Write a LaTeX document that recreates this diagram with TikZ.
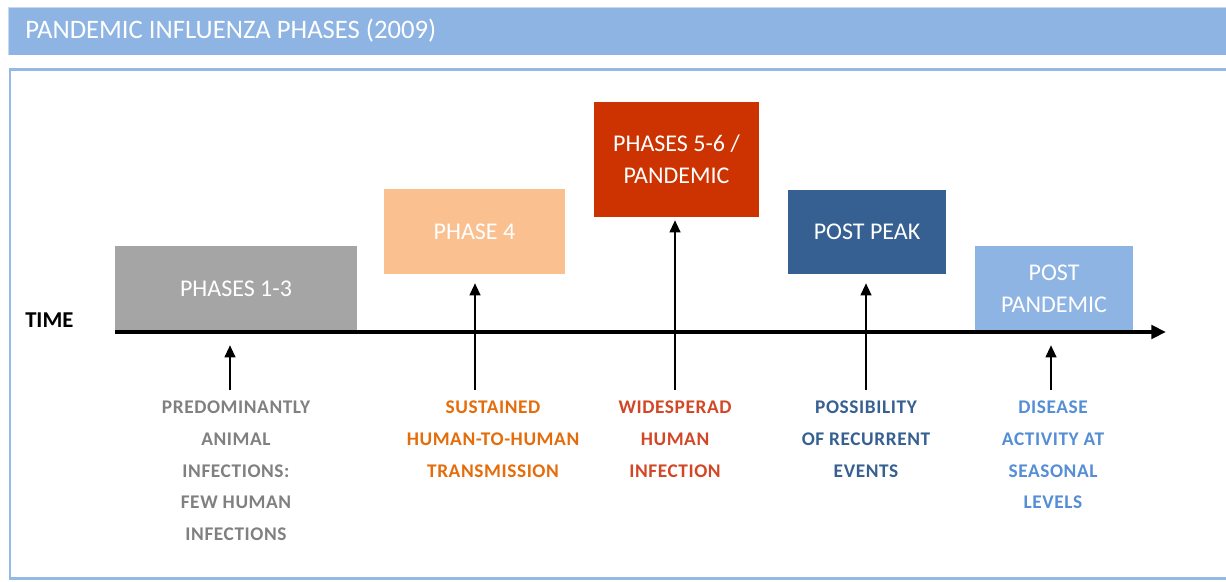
\documentclass[tikz,border=0pt]{standalone}
\usepackage{fontspec}
\setmainfont{Carlito}
\newfontfamily\lblfont[LetterSpace=3]{Carlito}
\usetikzlibrary{arrows.meta}
\definecolor{titlebar}{HTML}{8DB4E2}
\definecolor{titleedge}{HTML}{C6D9F1}
\definecolor{framecol}{HTML}{95B9E6}
\definecolor{cgray}{HTML}{A5A5A5}
\definecolor{cpeach}{HTML}{FAC090}
\definecolor{cred}{HTML}{CC3300}
\definecolor{cnavy}{HTML}{366092}
\definecolor{clight}{HTML}{8EB4E3}
\definecolor{tgray}{HTML}{808080}
\definecolor{torange}{HTML}{E46C0A}
\definecolor{tred}{HTML}{D24726}
\definecolor{tnavy}{HTML}{366092}
\definecolor{tlight}{HTML}{558ED5}
\tikzset{
  phasebox/.style={inner sep=0pt, text=white, align=center, text depth=0pt,
    font=\fontsize{18}{24}\selectfont},
  lbl/.style={anchor=north, align=center, inner sep=0pt,
    font=\lblfont\bfseries\fontsize{14.5}{23.7}\selectfont},
  uparrow/.style={line width=1.5pt, -{Triangle[length=9pt,width=8pt]}},
  axis/.style={line width=3pt, -{Triangle[length=11pt,width=10pt]}}
}
\begin{document}
\begin{tikzpicture}[x=0.75pt,y=-0.75pt]
\useasboundingbox (0,0) rectangle (1226,581);
% title bar
\fill[titlebar] (8,7) rectangle (1226,55);
\draw[titleedge, line width=0.8pt] (1226,7.5) -- (8.5,7.5) -- (8.5,55);
\node[anchor=west, text=white, inner sep=0pt, font=\fontsize{20}{24}\selectfont] (title) at (25,31) {PANDEMIC INFLUENZA PHASES (2009)};
% frame
\draw[framecol, line width=2pt] (1226,69.5) -- (10,69.5) -- (10,578.5) -- (1226,578.5);
% boxes
\node[phasebox, fill=cgray, minimum width=242*0.75pt, minimum height=86*0.75pt] (b1) at (236,289) {PHASES 1-3};
\node[phasebox, fill=cpeach, minimum width=181*0.75pt, minimum height=85*0.75pt] (b2) at (474.5,231.5) {PHASE 4};
\node[phasebox, fill=cred, minimum width=165*0.75pt, minimum height=115*0.75pt] (b3) at (676.5,159.5) {PHASES 5-6 /\\PANDEMIC};
\node[phasebox, fill=cnavy, minimum width=158*0.75pt, minimum height=84*0.75pt] (b4) at (867,232) {POST PEAK};
\node[phasebox, fill=clight, minimum width=158*0.75pt, minimum height=86*0.75pt] (b5) at (1054,289) {POST\\PANDEMIC};
% axis
\coordinate (ax0) at (115,332);
\coordinate (ax1) at (1166,332);
\draw[axis] (ax0) -- (ax1);
\node[anchor=west, inner sep=0pt, font=\bfseries\fontsize{17}{20}\selectfont] (time) at (25,320) {TIME};
% labels
\node[lbl, text=tgray] (l1) at (236,401) {PREDOMINANTLY\\ANIMAL\\INFECTIONS:\\FEW HUMAN\\INFECTIONS};
\node[lbl, text=torange] (l2) at (493,401) {SUSTAINED\\HUMAN-TO-HUMAN\\TRANSMISSION};
\node[lbl, text=tred] (l3) at (675,401) {WIDESPERAD\\HUMAN\\INFECTION};
\node[lbl, text=tnavy] (l4) at (866,401) {POSSIBILITY\\OF RECURRENT\\EVENTS};
\node[lbl, text=tlight] (l5) at (1053,401) {DISEASE\\ACTIVITY AT\\SEASONAL\\LEVELS};
% arrows
\coordinate (a1) at (230,390);
\coordinate (a2) at (475,390);
\coordinate (a3) at (675,390);
\coordinate (a4) at (866,390);
\coordinate (a5) at (1051,390);
\draw[uparrow, shorten >=13*0.75pt] (a1) -- (a1 |- b1.south);
\draw[uparrow, shorten >=9*0.75pt] (a2) -- (a2 |- b2.south);
\draw[uparrow, shorten >=3*0.75pt] (a3) -- (a3 |- b3.south);
\draw[uparrow, shorten >=9*0.75pt] (a4) -- (a4 |- b4.south);
\draw[uparrow, shorten >=13*0.75pt] (a5) -- (a5 |- b5.south);
\end{tikzpicture}
\end{document}
